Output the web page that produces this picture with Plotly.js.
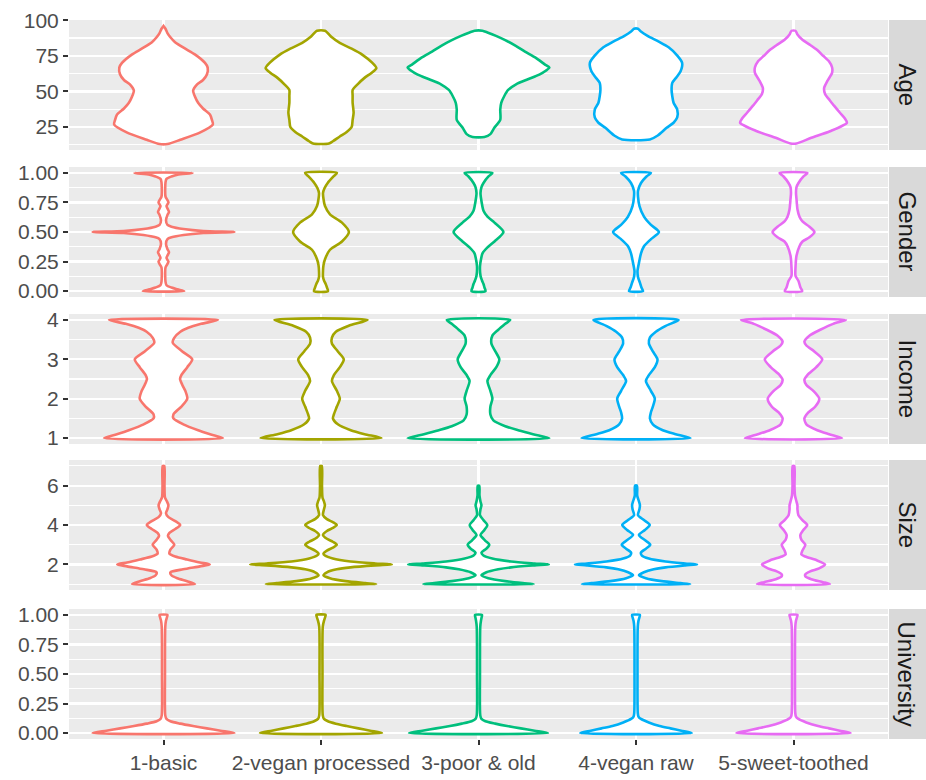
<!DOCTYPE html>
<html>
<head>
<meta charset="utf-8">
<script src="https://cdn.plot.ly/plotly-3.0.1.min.js"></script>
<style>
html,body{margin:0;padding:0;background:#fff;}
#chart{width:926px;height:780px;}
</style>
</head>
<body>
<div id="chart"></div>
<script>
// ---------------- DATA ----------------
const categories = ['1-basic', '2-vegan processed', '3-poor & old', '4-vegan raw', '5-sweet-toothed'];
const facets = ['Age', 'Gender', 'Income', 'Size', 'University'];

// Violin outlines: y levels and relative density (half-width)
const ageY = [
  [13, 16, 21, 26.7, 30, 33.7, 38, 42, 46, 50.6, 55, 58, 62, 66.7, 70, 76, 80, 84.5, 88, 91, 94, 96],
  [13.4, 15, 18.3, 21.5, 25, 30, 35, 42, 47, 51, 55, 59.5, 63, 66.4, 70, 75.7, 80, 84, 88, 92.6],
  [18, 20, 24.4, 30, 37.3, 42, 46.6, 51, 55, 58.5, 62, 64.5, 66.7, 69, 73.7, 78, 82, 86, 89, 91.4, 92.6],
  [16.2, 19, 24.4, 28, 31.7, 37.3, 42, 46.6, 51, 56, 60, 64, 70, 75, 81, 85, 89, 92, 94],
  [13.4, 17.4, 22, 28, 31, 35, 40, 44.4, 48, 52.5, 57, 63, 67, 71, 75, 79, 83, 86.3, 90, 92.6]
];
const ageW = [
  [4, 17, 36.7, 50, 49, 47, 40, 35, 32, 30, 34, 40, 44, 44.7, 42, 31.7, 22, 11.7, 7, 4, 2, 0],
  [8, 12, 19, 26, 31, 32, 33, 32, 32, 32, 37, 44, 51, 56, 52, 42, 31, 19, 11, 4],
  [6, 12, 16, 22, 22, 23, 26, 30, 38, 50, 62, 68, 71.7, 67, 57.7, 47, 37.7, 27, 17.7, 9, 4],
  [14, 22, 31, 38, 41.7, 41.7, 38, 36.7, 36, 36.7, 41, 45, 46.7, 42, 33, 23, 11.7, 5, 2],
  [3, 18, 37, 54, 52, 47, 41, 36, 32, 31, 34, 39, 39, 36, 30, 24, 16, 9, 4, 2]
];

const genderY = [
  [0, 0.015, 0.03, 0.05, 0.08, 0.2, 0.23, 0.25, 0.28, 0.31, 0.33, 0.355, 0.4, 0.44, 0.455, 0.475, 0.492, 0.5, 0.508, 0.525, 0.545, 0.56, 0.6, 0.645, 0.67, 0.69, 0.72, 0.75, 0.77, 0.8, 0.92, 0.95, 0.97, 0.985, 1],
  [0, 0.03, 0.06, 0.09, 0.12, 0.17, 0.22, 0.27, 0.35, 0.42, 0.5, 0.58, 0.65, 0.72, 0.78, 0.83, 0.87, 0.915, 0.97, 1],
  [0, 0.03, 0.06, 0.09, 0.13, 0.21, 0.27, 0.32, 0.37, 0.42, 0.5, 0.58, 0.63, 0.68, 0.76, 0.83, 0.88, 0.915, 0.97, 1],
  [0, 0.03, 0.07, 0.12, 0.17, 0.24, 0.32, 0.38, 0.44, 0.5, 0.56, 0.63, 0.72, 0.8, 0.85, 0.915, 0.97, 1],
  [0, 0.03, 0.085, 0.13, 0.2, 0.3, 0.38, 0.42, 0.455, 0.5, 0.545, 0.59, 0.63, 0.69, 0.78, 0.83, 0.88, 0.915, 0.97, 1]
];
const genderW = [
  [20.7, 14, 8, 3, 2, 2, 4, 5, 3, 4.5, 5.5, 4, 2.5, 4, 8, 20, 40, 71, 40, 20, 8, 4, 2.5, 4, 5.5, 4.5, 3, 5, 4, 2, 2, 3, 8, 14, 29],
  [7, 6, 4.7, 3, 2, 2, 2.5, 4, 9, 21, 28, 21, 9, 4, 2.5, 2, 3.5, 6.7, 12.5, 16],
  [7, 6, 5, 3.5, 2, 1.5, 2.5, 4, 9, 16, 25, 16, 9, 5, 3, 2, 3, 5, 10, 14],
  [7, 5.5, 4, 2, 1.5, 3, 5, 8, 15, 23, 15, 8, 3.5, 2, 2, 5, 10.5, 15],
  [8.7, 7, 5, 2, 2, 3, 6, 9, 16, 21, 16, 9, 6, 4, 3, 2.5, 3, 5, 10, 14]
];

const incomeY = [
  [1, 1.1, 1.2, 1.35, 1.5, 1.6, 1.8, 2, 2.2, 2.35, 2.5, 2.6, 2.8, 3, 3.2, 3.42, 3.55, 3.7, 3.8, 3.9, 4],
  [1, 1.1, 1.2, 1.35, 1.5, 1.6, 1.8, 2, 2.2, 2.45, 2.6, 2.8, 3, 3.2, 3.4, 3.55, 3.7, 3.85, 4],
  [1, 1.1, 1.2, 1.3, 1.45, 1.6, 1.8, 2, 2.2, 2.45, 2.6, 2.8, 3, 3.2, 3.4, 3.6, 3.75, 3.9, 4],
  [1, 1.1, 1.2, 1.35, 1.5, 1.65, 1.8, 2, 2.2, 2.45, 2.6, 2.8, 3, 3.2, 3.4, 3.55, 3.7, 3.85, 4],
  [1, 1.1, 1.2, 1.35, 1.5, 1.65, 1.8, 2, 2.2, 2.35, 2.48, 2.6, 2.8, 3, 3.2, 3.35, 3.45, 3.6, 3.75, 3.9, 4]
];
const incomeW = [
  [60, 47, 35, 20, 10, 10, 18, 24, 22, 19, 16.7, 18, 24, 29, 19, 9.3, 11, 17, 25, 38, 55],
  [61, 44, 30, 17, 12, 13, 16, 19, 16, 11, 13, 19, 23, 17, 11, 11, 15, 28, 47],
  [71.5, 55, 40, 27, 15, 12, 12, 14, 12, 9, 12, 18, 21, 17, 13, 14, 20, 27, 32],
  [55, 40, 27, 17, 14, 15, 17, 19, 15, 10, 13, 19, 21.7, 17, 13, 14, 20, 30, 43],
  [49, 36, 24, 13, 11, 15, 22, 26, 20, 13, 11, 14, 23, 29, 21, 13, 11, 16, 27, 40, 53]
];

const sizeY = [
  [1, 1.15, 1.3, 1.45, 1.6, 1.75, 1.9, 2, 2.1, 2.25, 2.4, 2.55, 2.75, 3, 3.25, 3.45, 3.6, 3.8, 4, 4.2, 4.4, 4.6, 4.8, 5, 5.2, 5.4, 6, 7],
  [1, 1.05, 1.15, 1.3, 1.45, 1.6, 1.75, 1.85, 1.95, 2, 2.05, 2.15, 2.3, 2.45, 2.55, 2.7, 2.85, 3, 3.15, 3.3, 3.5, 3.7, 3.85, 4, 4.15, 4.3, 4.5, 4.8, 5, 5.2, 5.4, 6, 7],
  [1, 1.05, 1.15, 1.3, 1.45, 1.6, 1.75, 1.85, 1.95, 2, 2.05, 2.15, 2.3, 2.45, 2.6, 2.8, 3, 3.2, 3.5, 3.75, 4, 4.25, 4.5, 4.8, 5, 5.2, 5.5, 6],
  [1, 1.05, 1.15, 1.3, 1.45, 1.6, 1.75, 1.85, 1.95, 2, 2.05, 2.15, 2.3, 2.45, 2.6, 2.8, 3, 3.2, 3.5, 3.75, 4, 4.25, 4.5, 4.8, 5, 5.2, 5.5, 6],
  [1, 1.1, 1.25, 1.4, 1.5, 1.65, 1.8, 2, 2.2, 2.4, 2.5, 2.7, 3, 3.25, 3.5, 3.75, 4, 4.25, 4.5, 4.8, 5, 5.2, 5.5, 6, 7]
];
const sizeW = [
  [32, 24, 14, 8, 7, 20, 37, 47, 37, 24, 12, 6, 7, 11, 7, 4.5, 6, 12, 17, 12, 5, 2.5, 4, 5, 3.5, 1.5, 1, 0.8],
  [56, 45, 25, 9, 2.5, 6, 16, 30, 55, 72, 55, 30, 12, 4, 2.5, 6, 12, 16, 12, 6, 2, 6, 12, 16, 12, 6, 2, 3, 4, 3, 1.5, 1, 0.8],
  [56, 45, 27, 10, 3, 8, 20, 33, 57, 71.5, 57, 33, 14, 5, 3, 8, 11, 7, 2, 6, 9, 5, 1.5, 2, 3, 2, 1, 0.8],
  [55, 45, 26, 10, 3, 8, 18, 30, 50, 62, 50, 30, 13, 6, 5, 10, 14.5, 10, 3, 9, 14, 8, 2, 3.5, 4, 3, 1.2, 1],
  [37, 30, 18, 12, 12, 17, 26, 32, 24, 12, 8, 9, 12, 8, 7, 10, 14, 9, 5, 4, 4, 3, 1.5, 1, 0.8]
];

const universityY = [
  [0, 0.02, 0.04, 0.06, 0.08, 0.1, 0.12, 0.15, 0.5, 0.9, 0.95, 0.98, 1],
  [0, 0.02, 0.04, 0.06, 0.08, 0.1, 0.12, 0.15, 0.5, 0.9, 0.95, 0.98, 1],
  [0, 0.02, 0.04, 0.06, 0.08, 0.1, 0.12, 0.15, 0.5, 0.9, 0.95, 0.98, 1],
  [0, 0.02, 0.04, 0.06, 0.09, 0.12, 0.14, 0.17, 0.5, 0.9, 0.95, 0.98, 1],
  [0, 0.02, 0.04, 0.06, 0.09, 0.12, 0.14, 0.17, 0.5, 0.9, 0.95, 0.98, 1]
];
const universityW = [
  [72, 58, 44, 30, 17, 7, 3, 1.8, 1.5, 1.8, 2.5, 3.5, 4],
  [62, 50, 38, 26, 15, 7, 3, 1.8, 1.5, 1.8, 3, 4.2, 4.7],
  [70.5, 57, 43, 29, 17, 7, 3, 1.8, 1.5, 1.8, 2.5, 3.2, 3.5],
  [56.7, 46, 35, 24, 13, 5, 2.5, 1.8, 1.5, 1.8, 2.5, 3.5, 4],
  [58, 47, 36, 25, 13, 5, 2.5, 1.8, 1.5, 1.8, 2.5, 3.5, 4]
];

// tick labels
const ageTicks = [25, 50, 75, 100];
const propTicks = [0, 0.25, 0.5, 0.75, 1];
const propTickText = ['0.00', '0.25', '0.50', '0.75', '1.00'];
const incomeTicks = [1, 2, 3, 4];
const sizeTicks = [2, 4, 6];

// ---------------- STYLE ----------------
const colors = ['#F8766D', '#A3A500', '#00BF7D', '#00B0F6', '#E76BF3'];
const panels = [
  {Y: ageY, W: ageW, range: [8.85, 100.15], tickvals: ageTicks, ticktext: ageTicks.map(String), minor: [12.5, 37.5, 62.5, 87.5], domain: [0.8192, 1]},
  {Y: genderY, W: genderW, range: [-0.05, 1.05], tickvals: propTicks, ticktext: propTickText, minor: [0.125, 0.375, 0.625, 0.875], domain: [0.6147, 0.7955]},
  {Y: incomeY, W: incomeW, range: [0.85, 4.15], tickvals: incomeTicks, ticktext: incomeTicks.map(String), minor: [1.5, 2.5, 3.5], domain: [0.4103, 0.5911]},
  {Y: sizeY, W: sizeW, range: [0.7, 7.3], tickvals: sizeTicks, ticktext: sizeTicks.map(String), minor: [1, 3, 5, 7], domain: [0.2072, 0.3880]},
  {Y: universityY, W: universityW, range: [-0.05, 1.05], tickvals: propTicks, ticktext: propTickText, minor: [0.125, 0.375, 0.625, 0.875], domain: [0, 0.1808]}
];

const maxHalfWidth = 0.45; // ggplot violin width 0.9
const traces = [];
const layout = {
  width: 926, height: 780,
  margin: {l: 69, r: 38, t: 20, b: 41, pad: 0},
  paper_bgcolor: '#FFFFFF',
  plot_bgcolor: '#EBEBEB',
  showlegend: false,
  font: {family: '"Liberation Sans", Arial, sans-serif', color: '#4D4D4D'},
  shapes: [], annotations: []
};

panels.forEach((p, pi) => {
  const n = pi + 1;
  const xa = 'x' + (n === 1 ? '' : n), ya = 'y' + (n === 1 ? '' : n);
  let maxW = 0;
  p.W.forEach(w => w.forEach(v => { if (v > maxW) maxW = v; }));
  const scale = maxHalfWidth / maxW;
  categories.forEach((cat, gi) => {
    const ys = p.Y[gi], ws = p.W[gi];
    const center = gi + 1;
    const xs = [], yy = [];
    for (let i = 0; i < ys.length; i++) { xs.push(center + ws[i] * scale); yy.push(ys[i]); }
    for (let i = ys.length - 1; i >= 0; i--) { xs.push(center - ws[i] * scale); yy.push(ys[i]); }
    xs.push(xs[0]); yy.push(yy[0]);
    traces.push({
      type: 'scatter', mode: 'lines', x: xs, y: yy, xaxis: xa, yaxis: ya,
      fill: 'toself', fillcolor: '#FFFFFF',
      line: {color: colors[gi], width: 2.6, shape: 'spline', smoothing: 0.7},
      hoverinfo: 'skip', name: cat
    });
  });
  const last = n === panels.length;
  layout['xaxis' + (n === 1 ? '' : n)] = {
    domain: [0, 1], anchor: ya, range: [0.4, 5.6],
    tickmode: 'array', tickvals: [1, 2, 3, 4, 5], ticktext: categories,
    showticklabels: last, ticks: last ? 'outside' : '', ticklen: 5, tickwidth: 2, tickcolor: '#333333',
    tickfont: {size: 21, color: '#4D4D4D'},
    showgrid: true, gridcolor: '#FFFFFF', gridwidth: 2.2,
    zeroline: false, showline: false, automargin: false, fixedrange: true
  };
  layout['yaxis' + (n === 1 ? '' : n)] = {
    domain: p.domain, anchor: xa, range: p.range,
    tickmode: 'array', tickvals: p.tickvals, ticktext: p.ticktext,
    ticks: 'outside', ticklen: 5, tickwidth: 2, tickcolor: '#333333',
    tickfont: {size: 21, color: '#4D4D4D'},
    showgrid: true, gridcolor: '#FFFFFF', gridwidth: 2.2,
    minor: {tickmode: 'array', tickvals: p.minor, showgrid: true, gridcolor: '#FFFFFF', gridwidth: 1.1, ticks: ''},
    zeroline: false, showline: false, automargin: false, fixedrange: true
  };
  layout.shapes.push({
    type: 'rect', xref: 'paper', yref: ya + ' domain',
    x0: 1.0012, x1: 1.0464, y0: 0, y1: 1,
    fillcolor: '#D9D9D9', line: {width: 0}, layer: 'below'
  });
  layout.annotations.push({
    xref: 'paper', yref: ya + ' domain', x: 1.0238, y: 0.5,
    text: facets[pi], showarrow: false, textangle: 90,
    xanchor: 'center', yanchor: 'middle',
    font: {size: 24, color: '#1A1A1A'}
  });
});

Plotly.newPlot('chart', traces, layout, {staticPlot: true, displayModeBar: false});
</script>
</body>
</html>
